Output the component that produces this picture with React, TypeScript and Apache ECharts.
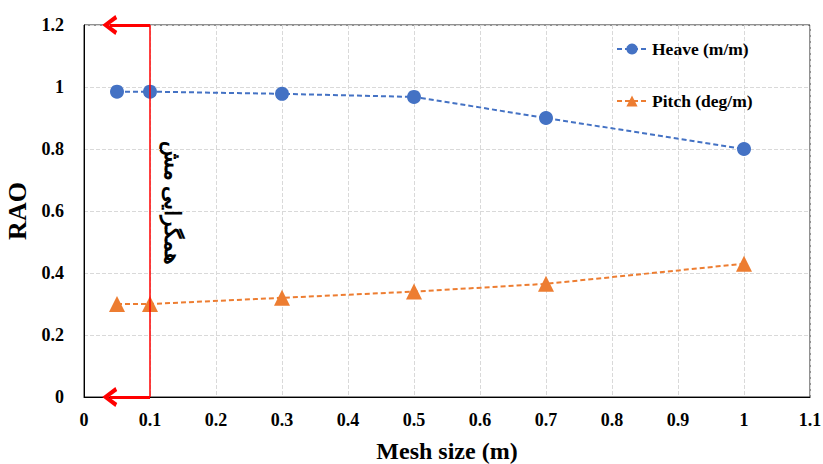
import React, { useEffect, useRef } from "react";
import * as echarts from "echarts";

const meshSizes = [0.05, 0.1, 0.3, 0.5, 0.7, 1];
const heave = [0.985, 0.985, 0.978, 0.968, 0.9, 0.8];
const pitch = [0.3, 0.3, 0.32, 0.34, 0.365, 0.43];
const convergenceMesh = 0.1;
const arrowTipX = 0.039;
const yTop = 1.2;
const yBottom = 0;

const FONT = "'Times New Roman', 'Liberation Serif', serif";
const chevron = "path://M0,14 L10,0 L20,14 L16,16 L10,7 L4,16 Z";

export default function App() {
  const ref = useRef<HTMLDivElement>(null);
  useEffect(() => {
    if (!ref.current) return;
    const chart = echarts.init(ref.current, undefined, { renderer: "svg" });
    const lbl = { fontFamily: FONT, fontWeight: "bold" as const, fontSize: 18, color: "#000" };
    chart.setOption({
      animation: false,
      backgroundColor: "#fff",
      grid: {
        left: 84,
        right: 13,
        top: 25,
        bottom: 67,
        containLabel: false,
        outerBoundsMode: "none",
        show: true,
        borderColor: "#222",
        borderWidth: 1,
      },
      legend: {
        orient: "vertical",
        left: 611,
        top: 35,
        itemGap: 34,
        itemWidth: 30,
        itemHeight: 14,
        textStyle: { fontFamily: FONT, fontWeight: "bold", fontSize: 17.5, color: "#000" },
        data: ["Heave (m/m)", "Pitch (deg/m)"],
      },
      xAxis: {
        type: "value",
        min: 0,
        max: 1.1,
        interval: 0.1,
        name: "Mesh size (m)",
        nameLocation: "middle",
        nameGap: 42,
        nameTextStyle: { fontFamily: FONT, fontWeight: "bold", fontSize: 24, color: "#000" },
        axisLine: { lineStyle: { color: "#000", width: 1 } },
        axisTick: { show: false },
        axisLabel: { ...lbl, margin: 14 },
        splitLine: { show: true, lineStyle: { color: "#d9d9d9", type: "dashed" } },
      },
      yAxis: {
        type: "value",
        min: 0,
        max: 1.2,
        interval: 0.2,
        name: "RAO",
        nameLocation: "middle",
        nameGap: 50,
        nameTextStyle: { fontFamily: FONT, fontWeight: "bold", fontSize: 26, color: "#000" },
        axisLine: { show: true, lineStyle: { color: "#000", width: 1 } },
        axisTick: { show: false },
        axisLabel: { ...lbl, margin: 20 },
        splitLine: { show: true, lineStyle: { color: "#d9d9d9", type: "dashed" } },
      },
      series: [
        {
          name: "Heave (m/m)",
          type: "line",
          data: meshSizes.map((x, i) => [x, heave[i]]),
          symbol: "circle",
          symbolSize: 14,
          itemStyle: { color: "#4472C4" },
          lineStyle: { color: "#4472C4", width: 2, type: [5, 3] },
          z: 3,
          markLine: {
            silent: true,
            symbol: "none",
            label: { show: false },
            lineStyle: { color: "#ff0000", width: 1.5, type: "solid" },
            data: [
              { xAxis: convergenceMesh },
              [
                { coord: [convergenceMesh, yTop], symbol: "none", lineStyle: { width: 3 } },
                { coord: [arrowTipX, yTop], symbol: chevron, symbolSize: [20, 15] },
              ],
              [
                { coord: [convergenceMesh, yBottom], symbol: "none", lineStyle: { width: 3 } },
                { coord: [arrowTipX, yBottom], symbol: chevron, symbolSize: [20, 15] },
              ],
            ],
          },
        },
        {
          name: "Pitch (deg/m)",
          type: "line",
          data: meshSizes.map((x, i) => [x, pitch[i]]),
          symbol: "triangle",
          symbolSize: 16,
          itemStyle: { color: "#ED7D31" },
          lineStyle: { color: "#ED7D31", width: 2, type: [5, 3] },
          z: 3,
        },
      ],
      graphic: [
        {
          type: "text",
          x: 172,
          y: 203,
          rotation: -Math.PI / 2,
          style: {
            text: "همگرایی مش",
            fontFamily: FONT,
            fontWeight: "bold",
            fontSize: 22,
            fill: "#000",
            textAlign: "center",
            textVerticalAlign: "middle",
          },
        },
      ],
    });
    return () => chart.dispose();
  }, []);
  return <div ref={ref} style={{ width: 823, height: 464, position: "absolute", left: 0, top: 0 }} />;
}
